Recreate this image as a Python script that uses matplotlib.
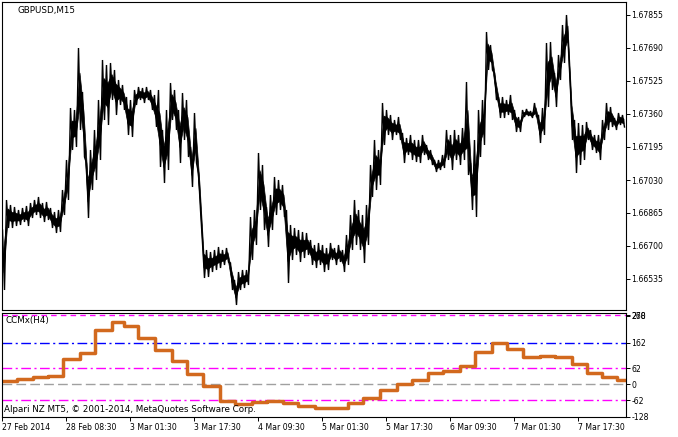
import numpy as np
import matplotlib
matplotlib.use("Agg")
import matplotlib.pyplot as plt

# ---------------- data ----------------
# GBPUSD M15: high / low sampled every 4 bars (bar index = 4*i)
price_high = [
    1.66780, 1.66930, 1.66905, 1.66895, 1.66880, 1.66890, 1.66900, 1.66915, 1.66930, 1.66945,
    1.66915, 1.66920, 1.66890, 1.66870, 1.66880, 1.66980, 1.67130, 1.67390, 1.67380, 1.67690,
    1.67470, 1.67115, 1.67180, 1.67280, 1.67430, 1.67630, 1.67605, 1.67615, 1.67580, 1.67530,
    1.67505, 1.67445, 1.67430, 1.67480, 1.67495, 1.67490, 1.67495, 1.67480, 1.67455, 1.67480,
    1.67280, 1.67380, 1.67515, 1.67480, 1.67380, 1.67465, 1.67430, 1.67195, 1.67365, 1.67065,
    1.66715, 1.66680, 1.66670, 1.66680, 1.66695, 1.66680, 1.66690, 1.66615, 1.66530, 1.66570,
    1.66580, 1.66580, 1.66845, 1.66880, 1.67165, 1.67105, 1.66895, 1.66955, 1.67045, 1.67030,
    1.67005, 1.66880, 1.66805, 1.66790, 1.66780, 1.66770, 1.66765, 1.66730, 1.66705, 1.66715,
    1.66705, 1.66690, 1.66715, 1.66690, 1.66705, 1.66680, 1.66755, 1.66855, 1.66930, 1.66880,
    1.66855, 1.66905, 1.67105, 1.67230, 1.67180, 1.67415, 1.67380, 1.67355, 1.67330, 1.67345,
    1.67265, 1.67240, 1.67255, 1.67230, 1.67230, 1.67255, 1.67205, 1.67180, 1.67130, 1.67130,
    1.67155, 1.67280, 1.67255, 1.67280, 1.67255, 1.67290, 1.67520, 1.67115, 1.67230, 1.67380,
    1.67430, 1.67770, 1.67705, 1.67565, 1.67445, 1.67445, 1.67430, 1.67455, 1.67380, 1.67345,
    1.67380, 1.67385, 1.67375, 1.67415, 1.67355, 1.67390, 1.67715, 1.67720, 1.67565, 1.67655,
    1.67805, 1.67855, 1.67480, 1.67330, 1.67315, 1.67305, 1.67320, 1.67280, 1.67255, 1.67255,
    1.67330, 1.67415, 1.67395, 1.67340, 1.67365, 1.67355,
]
price_low = [
    1.66480, 1.66790, 1.66790, 1.66800, 1.66805, 1.66820, 1.66800, 1.66840, 1.66855, 1.66840,
    1.66820, 1.66830, 1.66790, 1.66765, 1.66770, 1.66855, 1.66930, 1.67180, 1.67195, 1.67280,
    1.67145, 1.66840, 1.66980, 1.67030, 1.67130, 1.67330, 1.67305, 1.67430, 1.67355, 1.67405,
    1.67380, 1.67255, 1.67245, 1.67405, 1.67430, 1.67415, 1.67430, 1.67380, 1.67295, 1.67095,
    1.67015, 1.67080, 1.67330, 1.67280, 1.67115, 1.67230, 1.67145, 1.66995, 1.67115, 1.66880,
    1.66540, 1.66545, 1.66570, 1.66580, 1.66590, 1.66605, 1.66620, 1.66480, 1.66405, 1.66480,
    1.66490, 1.66505, 1.66630, 1.66705, 1.66880, 1.66780, 1.66695, 1.66780, 1.66855, 1.66880,
    1.66845, 1.66515, 1.66630, 1.66655, 1.66620, 1.66640, 1.66655, 1.66605, 1.66590, 1.66605,
    1.66570, 1.66580, 1.66630, 1.66605, 1.66620, 1.66570, 1.66605, 1.66680, 1.66705, 1.66680,
    1.66615, 1.66705, 1.66945, 1.66980, 1.67005, 1.67205, 1.67255, 1.67230, 1.67255, 1.67230,
    1.67115, 1.67155, 1.67130, 1.67120, 1.67115, 1.67155, 1.67130, 1.67105, 1.67070, 1.67080,
    1.67090, 1.67130, 1.67080, 1.67130, 1.67105, 1.67130, 1.67055, 1.66880, 1.66845, 1.67145,
    1.67205, 1.67580, 1.67580, 1.67430, 1.67340, 1.67340, 1.67355, 1.67330, 1.67270, 1.67270,
    1.67345, 1.67350, 1.67340, 1.67345, 1.67215, 1.67255, 1.67395, 1.67480, 1.67395, 1.67530,
    1.67615, 1.67680, 1.67230, 1.67065, 1.67105, 1.67130, 1.67230, 1.67180, 1.67165, 1.67130,
    1.67230, 1.67280, 1.67295, 1.67280, 1.67305, 1.67295,
]
bar_step = 4

# CCMx(H4) indicator: value per H4 block, block start bar index
h4_start = [0, 15, 31, 46, 61, 78, 93, 110, 122, 136,
            153, 170, 185, 201, 218, 233, 250, 265, 281, 296,
            313, 329, 346, 361, 378, 395, 410, 426, 441, 458,
            473, 490, 505, 521, 538, 553, 570, 585, 600, 615]
ccmx = [12, 22, 30, 32, 100, 120, 211, 243, 226, 182,
        135, 90, 39, -8, -65, -79, -69, -65, -73, -86,
        -92, -92, -75, -53, -23, -1, 18, 42, 52, 73,
        126, 159, 138, 107, 112, 107, 77, 44, 29, 18]
n_bars = 624

price_ticks = [1.67855, 1.67690, 1.67525, 1.67360, 1.67195,
               1.67030, 1.66865, 1.66700, 1.66535]
ind_ticks = [270, 268, 162, 62, 0, -62, -128]
time_labels = ["27 Feb 2014", "28 Feb 08:30", "3 Mar 01:30", "3 Mar 17:30",
               "4 Mar 09:30", "5 Mar 01:30", "5 Mar 17:30", "6 Mar 09:30",
               "7 Mar 01:30", "7 Mar 17:30"]
time_label_bars = [0, 64, 128, 192, 256, 320, 384, 448, 512, 576]

# ---------------- figure ----------------
W, H = 678, 437
fig = plt.figure(figsize=(W / 100, H / 100), dpi=100)
fig.patch.set_facecolor("white")


def px_axes(x0, y0, x1, y1):
    return fig.add_axes([x0 / W, 1 - y1 / H, (x1 - x0) / W, (y1 - y0) / H])


FS = 5.6
ax = px_axes(2, 2, 626, 310)
ax2 = px_axes(2, 313, 626, 417)

# price bars: solid core between highs and lows, jagged zigzag edges
hi = np.array(price_high)
lo = np.array(price_low)
rng = hi - lo
bx = np.arange(len(hi)) * bar_step + 1.5
ax.fill_between(bx, lo + 0.3 * rng, hi - 0.3 * rng, color="black", lw=0.5,
                edgecolor="black")
xs = []
ys = []
for i, (h, l) in enumerate(zip(price_high, price_low)):
    xs += [i * bar_step + 0.5, i * bar_step + 2.5]
    ys += [h, l]
ax.plot(xs, ys, color="black", lw=1.0, solid_joinstyle="miter")
ax.set_xlim(0, n_bars)
ax.set_ylim(1.66380, 1.67920)
ax.set_xticks([])
ax.yaxis.tick_right()
ax.set_yticks(price_ticks)
ax.set_yticklabels([f"{t:.5f}" for t in price_ticks])

# indicator
LW = 1.0
ax2.axhline(270, color="#FF00FF", lw=LW, dashes=(4, 3))
ax2.axhline(162, color="#0000FF", lw=LW, dashes=(7, 2.5, 1.5, 2.5))
ax2.axhline(62, color="#FF00FF", lw=LW, dashes=(7, 2.5, 1.5, 2.5))
ax2.axhline(-62, color="#FF00FF", lw=LW, dashes=(7, 2.5, 1.5, 2.5))
ax2.axhline(0, color="#A0A0A0", lw=LW, dashes=(7, 3))
sx = list(h4_start) + [n_bars]
sy = list(ccmx) + [ccmx[-1]]
ax2.step(sx, sy, where="post", color="#D2691E", lw=2.5)
ax2.set_xlim(0, n_bars)
ax2.set_ylim(-128, 278)
ax2.yaxis.tick_right()
ax2.set_yticks(ind_ticks)
ax2.set_yticklabels([str(t) for t in ind_ticks])
ax2.set_xticks(time_label_bars)
ax2.set_xticklabels(time_labels)
for lab in ax2.get_xticklabels():
    lab.set_horizontalalignment("left")

for a in (ax, ax2):
    for s in a.spines.values():
        s.set_linewidth(0.8)
        s.set_color("black")
    a.tick_params(axis="both", direction="out", length=3, width=0.7,
                  labelsize=FS, pad=1, colors="black")

fig.text(17 / W, 1 - 10 / H, "GBPUSD,M15", fontsize=6.3, va="center", ha="left")
fig.text(5 / W, 1 - 321 / H, "CCMx(H4)", fontsize=6.3, va="center", ha="left")
fig.text(4 / W, 1 - 409 / H, "Alpari NZ MT5, © 2001-2014, MetaQuotes Software Corp.",
         fontsize=6.3, va="center", ha="left")

fig.savefig("out.png", dpi=100)
